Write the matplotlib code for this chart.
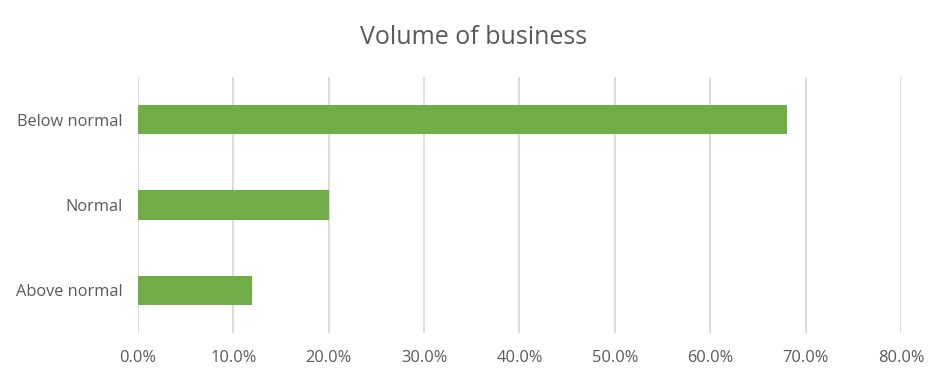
import matplotlib.pyplot as plt
from matplotlib.ticker import FuncFormatter

categories = ['Below normal', 'Normal', 'Above normal']
shares = [68.0, 20.0, 12.0]
xticks = [0, 10, 20, 30, 40, 50, 60, 70, 80]

plt.rcParams['font.family'] = ['Open Sans', 'DejaVu Sans']
textcol = '#595959'

fig = plt.figure(figsize=(9.47, 3.84), dpi=100)
ax = fig.add_axes([0.1457, 0.1328, 0.8057, 0.6667])

ypos = range(len(categories))
ax.barh(ypos, shares, height=0.34, color='#70AD47', zorder=3)
ax.set_yticks(list(ypos))
ax.set_yticklabels(categories)
ax.set_ylim(len(categories) - 0.5, -0.5)

ax.set_xlim(0, 80)
ax.set_xticks(xticks)
ax.xaxis.set_major_formatter(FuncFormatter(lambda v, p: '{:.1f}%'.format(v)))
ax.grid(axis='x', color='#D9D9D9', linewidth=1.3, zorder=0)

for s in ax.spines.values():
    s.set_visible(False)
ax.tick_params(axis='both', length=0, labelsize=11.8, colors=textcol)
ax.tick_params(axis='x', pad=12)
ax.tick_params(axis='y', pad=11)

fig.suptitle('Volume of business', y=0.935, fontsize=18, color=textcol)

fig.savefig('out.png', dpi=100)
